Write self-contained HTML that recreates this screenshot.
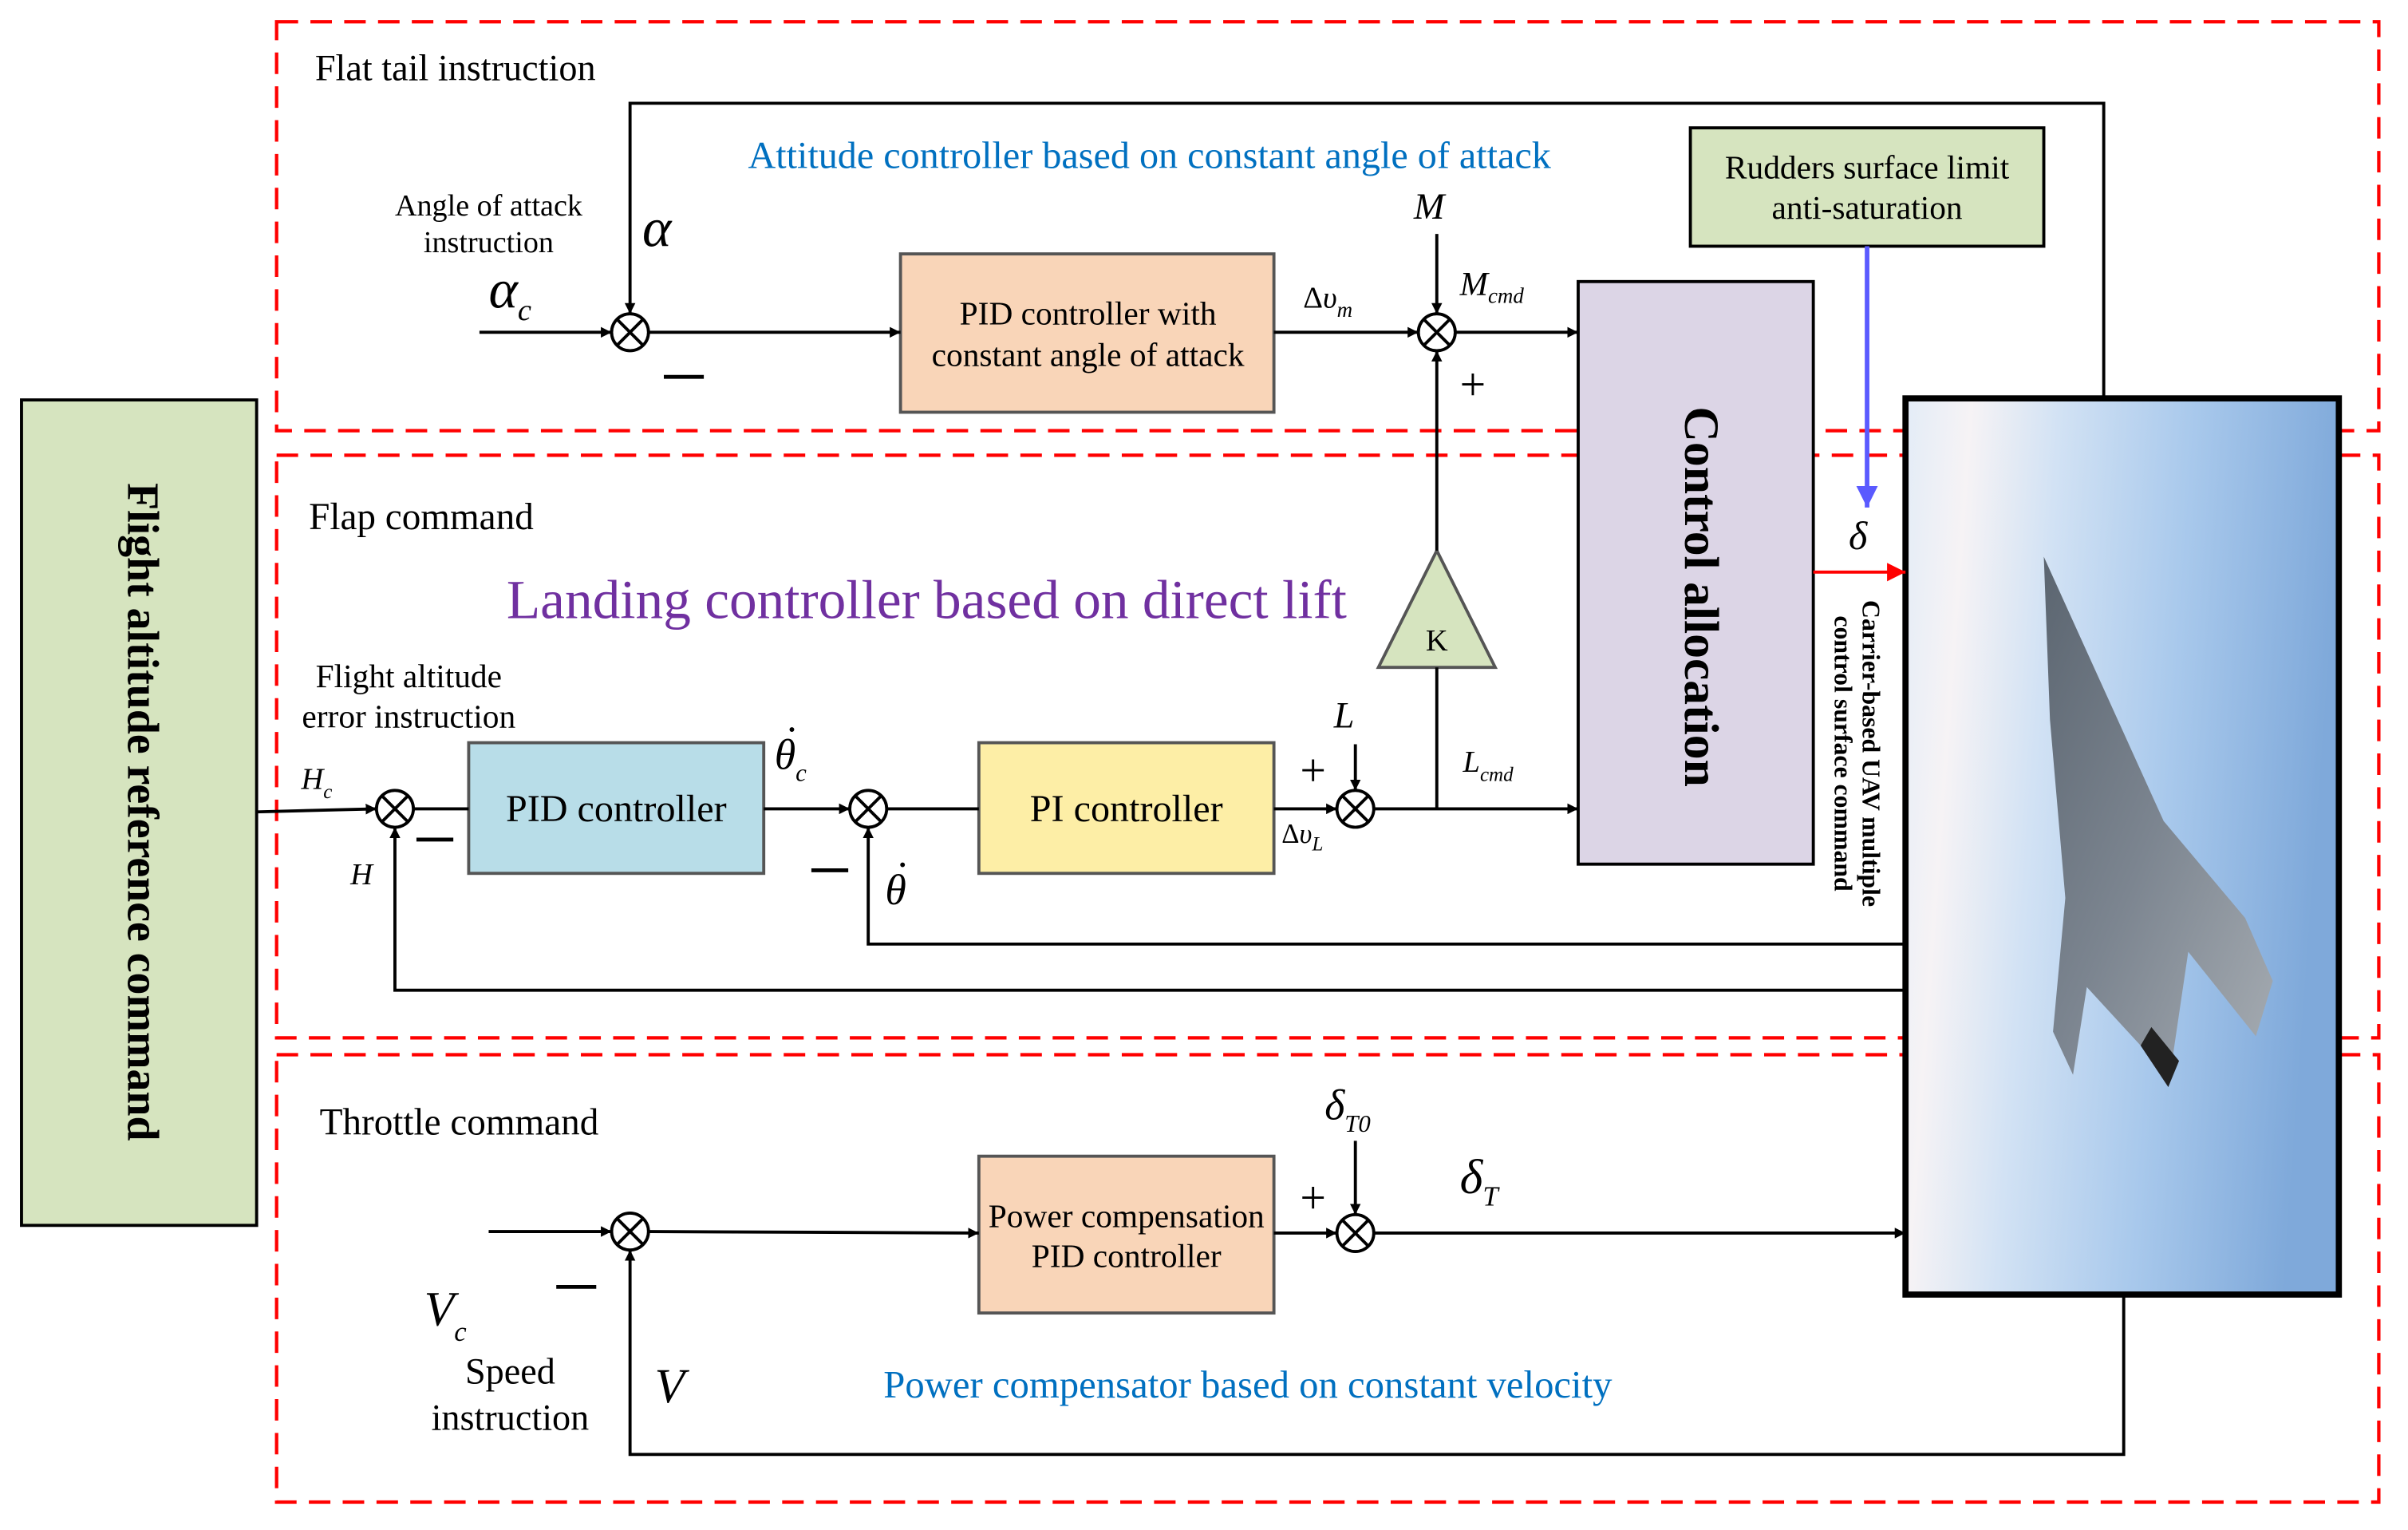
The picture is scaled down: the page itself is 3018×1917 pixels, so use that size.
<!DOCTYPE html>
<html><head><meta charset="utf-8"><style>
html,body{margin:0;padding:0;background:#fff}
svg{display:block}
text{font-family:"Liberation Serif",serif}
</style></head><body>
<svg width="3018" height="1917" viewBox="0 0 1567 995" xmlns="http://www.w3.org/2000/svg">
<defs>
<marker id="a" viewBox="0 0 10 10" refX="10" refY="5" markerWidth="7" markerHeight="7" orient="auto" markerUnits="userSpaceOnUse"><path d="M0,0 L10,5 L0,10 z" fill="#000"/></marker>
<marker id="ar" viewBox="0 0 10 10" refX="10" refY="5" markerWidth="12" markerHeight="12" orient="auto" markerUnits="userSpaceOnUse"><path d="M0,0 L10,5 L0,10 z" fill="#f00"/></marker>
<marker id="au" viewBox="0 0 10 10" refX="10" refY="5" markerWidth="14" markerHeight="14" orient="auto" markerUnits="userSpaceOnUse"><path d="M0,0 L10,5 L0,10 z" fill="#5a5aff"/></marker>
<linearGradient id="sky" x1="0" y1="0" x2="1" y2="0.15">
<stop offset="0" stop-color="#e3ecf7"/><stop offset="0.15" stop-color="#f6f3f5"/><stop offset="0.35" stop-color="#d2e2f4"/><stop offset="0.65" stop-color="#a9c9ec"/><stop offset="1" stop-color="#7fa9da"/></linearGradient>
<linearGradient id="pl" x1="0" y1="0" x2="1" y2="1"><stop offset="0" stop-color="#5b6570"/><stop offset="0.5" stop-color="#7c8590"/><stop offset="1" stop-color="#a7adb3"/></linearGradient>
</defs>

<g fill="none" stroke="#f00" stroke-width="2.2" stroke-dasharray="14,8">
<rect x="180" y="14" width="1368" height="266"/>
<rect x="180" y="296" width="1368" height="379"/>
<rect x="180" y="686" width="1368" height="291"/>
</g>

<rect x="14" y="260" width="153" height="537" fill="#d6e4bf" stroke="#000" stroke-width="2"/>
<text transform="translate(90,528) rotate(90)" text-anchor="middle" dominant-baseline="middle" font-size="29" font-weight="bold">Flight altitude reference command</text>

<rect x="1240" y="259" width="282" height="583" fill="url(#sky)" stroke="#000" stroke-width="4"/>
<polygon points="1330,362 1408,534 1461,597 1479,638 1468,674 1424,619 1411,707 1393,680 1358,642 1349,699 1336,671 1344,584 1334,468" fill="url(#pl)"/>
<polygon points="1393,680 1411,707 1418,690 1400,668" fill="#222"/>

<rect x="586" y="165" width="243" height="103" fill="#f9d5b8" stroke="#555" stroke-width="2"/>
<text x="708" y="211" text-anchor="middle" font-size="21.5">PID controller with</text>
<text x="708" y="238" text-anchor="middle" font-size="21.5">constant angle of attack</text>
<rect x="1100" y="83" width="230" height="77" fill="#d6e4bf" stroke="#000" stroke-width="2"/>
<text x="1215" y="116" text-anchor="middle" font-size="21.5">Rudders surface limit</text>
<text x="1215" y="142" text-anchor="middle" font-size="21.5">anti-saturation</text>
<rect x="1027" y="183" width="153" height="379" fill="#dcd5e6" stroke="#000" stroke-width="2"/>
<text transform="translate(1104,388) rotate(90)" text-anchor="middle" dominant-baseline="middle" font-size="32" font-weight="bold">Control allocation</text>
<rect x="305" y="483" width="192" height="85" fill="#b8dde8" stroke="#555" stroke-width="2"/>
<text x="401" y="534" text-anchor="middle" font-size="25">PID controller</text>
<rect x="637" y="483" width="192" height="85" fill="#fdeea6" stroke="#555" stroke-width="2"/>
<text x="733" y="534" text-anchor="middle" font-size="25">PI controller</text>
<rect x="637" y="752" width="192" height="102" fill="#f9d5b8" stroke="#555" stroke-width="2"/>
<text x="733" y="798" text-anchor="middle" font-size="21.5">Power compensation</text>
<text x="733" y="824" text-anchor="middle" font-size="21.5">PID controller</text>
<polygon points="935,358 897,434 973,434" fill="#d6e4bf" stroke="#555" stroke-width="2"/>
<text x="935" y="423" text-anchor="middle" font-size="20">K</text>

<g stroke="#000" stroke-width="2" fill="none">
<line x1="312" y1="216" x2="398" y2="216" marker-end="url(#a)"/>
<line x1="422" y1="216" x2="586" y2="216" marker-end="url(#a)"/>
<line x1="829" y1="216" x2="923" y2="216" marker-end="url(#a)"/>
<line x1="947" y1="216" x2="1027" y2="216" marker-end="url(#a)"/>
<line x1="935" y1="152" x2="935" y2="204" marker-end="url(#a)"/>
<line x1="935" y1="358" x2="935" y2="228" marker-end="url(#a)"/>
<polyline points="1369,259 1369,67 410,67 410,204" marker-end="url(#a)"/>
<line x1="167" y1="528" x2="245" y2="526" marker-end="url(#a)"/>
<line x1="269" y1="526" x2="305" y2="526"/>
<line x1="497" y1="526" x2="553" y2="526" marker-end="url(#a)"/>
<line x1="577" y1="526" x2="637" y2="526"/>
<line x1="829" y1="526" x2="870" y2="526" marker-end="url(#a)"/>
<line x1="894" y1="526" x2="1027" y2="526" marker-end="url(#a)"/>
<line x1="935" y1="526" x2="935" y2="434"/>
<line x1="882" y1="484" x2="882" y2="514" marker-end="url(#a)"/>
<polyline points="1240,614 565,614 565,538" marker-end="url(#a)"/>
<polyline points="1240,644 257,644 257,538" marker-end="url(#a)"/>
<line x1="318" y1="801" x2="398" y2="801" marker-end="url(#a)"/>
<line x1="422" y1="801" x2="637" y2="802" marker-end="url(#a)"/>
<line x1="829" y1="802" x2="870" y2="802" marker-end="url(#a)"/>
<line x1="894" y1="802" x2="1240" y2="802" marker-end="url(#a)"/>
<line x1="882" y1="742" x2="882" y2="790" marker-end="url(#a)"/>
<polyline points="1382,842 1382,946 410,946 410,813" marker-end="url(#a)"/>
</g>
<line x1="1180" y1="372" x2="1240" y2="372" stroke="#f00" stroke-width="2" marker-end="url(#ar)"/>
<line x1="1215" y1="160" x2="1215" y2="330" stroke="#5a5aff" stroke-width="3" marker-end="url(#au)"/>

<g fill="#fff" stroke="#000" stroke-width="2">
<circle cx="410" cy="216" r="12"/><circle cx="935" cy="216" r="12"/>
<circle cx="257" cy="526" r="12"/><circle cx="565" cy="526" r="12"/><circle cx="882" cy="526" r="12"/>
<circle cx="410" cy="801" r="12"/><circle cx="882" cy="802" r="12"/>
</g>
<g stroke="#000" stroke-width="2">
<path d="M401.5,207.5l17,17M418.5,207.5l-17,17"/>
<path d="M926.5,207.5l17,17M943.5,207.5l-17,17"/>
<path d="M248.5,517.5l17,17M265.5,517.5l-17,17"/>
<path d="M556.5,517.5l17,17M573.5,517.5l-17,17"/>
<path d="M873.5,517.5l17,17M890.5,517.5l-17,17"/>
<path d="M401.5,792.5l17,17M418.5,792.5l-17,17"/>
<path d="M873.5,793.5l17,17M890.5,793.5l-17,17"/>
</g>

<text x="205" y="52" font-size="24">Flat tail instruction</text>
<text x="201" y="344" font-size="24.5">Flap command</text>
<text x="208" y="738" font-size="24.5">Throttle command</text>
<text x="748" y="109" text-anchor="middle" font-size="25" fill="#0070c0">Attitude controller based on constant angle of attack</text>
<text x="603" y="402" text-anchor="middle" font-size="36" fill="#7030a0">Landing controller based on direct lift</text>
<text x="812" y="909" text-anchor="middle" font-size="25.3" fill="#0070c0">Power compensator based on constant velocity</text>
<g font-size="19.8" text-anchor="middle">
<text x="318" y="140">Angle of attack</text>
<text x="318" y="164">instruction</text>
</g>
<g font-size="21.5" text-anchor="middle">
<text x="266" y="447">Flight altitude</text>
<text x="266" y="473">error instruction</text>
</g>
<g font-size="24" text-anchor="middle">
<text x="332" y="900">Speed</text>
<text x="332" y="930">instruction</text>
</g>
<g font-style="italic">
<text x="318" y="200" font-size="36">α<tspan font-size="20" dy="8">c</tspan></text>
<text x="418" y="160" font-size="36">α</text>
<text x="920" y="142" font-size="24">M</text>
<text x="950" y="192" font-size="22">M<tspan font-size="14" dy="5">cmd</tspan></text>
<text x="848" y="200" font-size="20" font-style="normal">Δ<tspan font-style="italic">υ</tspan><tspan font-size="14" dy="6" font-style="italic">m</tspan></text>
<text x="1203" y="357" font-size="26">δ</text>
<text x="868" y="473" font-size="24">L</text>
<text x="952" y="502" font-size="20">L<tspan font-size="13" dy="6">cmd</tspan></text>
<text x="834" y="548" font-size="18" font-style="normal">Δ<tspan font-style="italic">υ</tspan><tspan font-size="13" dy="5" font-style="italic">L</tspan></text>
<text x="196" y="513" font-size="20">H<tspan font-size="13" dy="6">c</tspan></text>
<text x="228" y="575" font-size="20">H</text>
<text x="504" y="500" font-size="28">θ<tspan font-size="16" dy="8">c</tspan></text>
<text x="576" y="588" font-size="28">θ</text>
<text x="862" y="728" font-size="28">δ<tspan font-size="16" dy="8">T0</tspan></text>
<text x="950" y="776" font-size="32">δ<tspan font-size="18" dy="8">T</tspan></text>
<text x="276" y="862" font-size="32">V<tspan font-size="18" dy="10">c</tspan></text>
<text x="426" y="912" font-size="32">V</text>
</g>
<g font-size="26">
<text x="511" y="483">·</text><text x="583" y="571">·</text>
</g>
<g stroke="#000" stroke-width="2.5">
<line x1="432" y1="245" x2="458" y2="245"/>
<line x1="271" y1="546" x2="295" y2="546"/>
<line x1="528" y1="566" x2="552" y2="566"/>
<line x1="362" y1="837" x2="388" y2="837"/>
</g>
<g font-size="30">
<text x="950" y="260">+</text>
<text x="846" y="511">+</text>
<text x="846" y="789">+</text>
</g>
<text transform="translate(1212,490) rotate(90)" text-anchor="middle" font-size="16.5" font-weight="bold">Carrier-based UAV multiple</text>
<text transform="translate(1194,490) rotate(90)" text-anchor="middle" font-size="16.5" font-weight="bold">control surface command</text>
</svg>
</body></html>
